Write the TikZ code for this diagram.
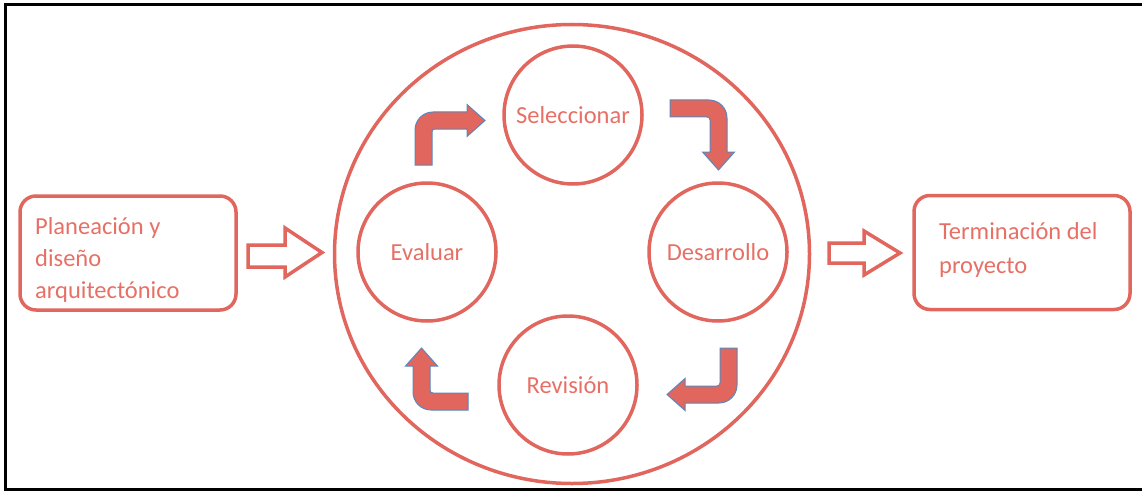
\documentclass[tikz,border=0pt]{standalone}
\usepackage{fontspec}
\setmainfont{Carlito}
\usetikzlibrary{shapes.geometric}
\definecolor{accred}{RGB}{224,102,94}
\definecolor{txtred}{RGB}{230,112,102}
\definecolor{edgeblue}{RGB}{90,135,190}
\newcommand\bentarrow[2]{%
  \path[bent] (0,#1) -- (0,18) .. controls (0,8) and (8,0) .. (18,0) -- ({#2-18},0) -- ({#2-18},-7.5) -- (#2,8.5) -- ({#2-18},24.5) -- ({#2-18},17) -- (20,17) .. controls (18,17) and (17,18) .. (17,20) -- (17,#1) -- cycle;}
\begin{document}
\begin{tikzpicture}[x=1pt,y=-1pt,
  cyc/.style={circle, draw=accred, line width=3.5pt, minimum size=138pt, inner sep=0pt, text=txtred, font=\fontsize{24.5}{28}\selectfont},
  big/.style={ellipse, draw=accred, line width=3.5pt, minimum width=475pt, minimum height=459pt, inner sep=0pt},
  box/.style={draw=accred, line width=3.5pt, rounded corners=16pt, minimum width=216pt, minimum height=114pt, inner sep=0pt},
  boxtext/.style={anchor=west, align=left, text=txtred, inner sep=0pt},
  hollow/.style={draw=accred, line width=3.5pt, fill=white, line join=miter},
  bent/.style={fill=accred, draw=edgeblue, line width=1pt},
  frame/.style={draw=black, line width=3.5pt}
]
\useasboundingbox (0,0) rectangle (1142,492);
\draw[frame] (5.5,491) -- (5.5,4.5) -- (1142,4.5);
\draw[frame] (4,489.5) -- (1142,489.5);

\node[big] (outer) at (572,254) {};
\node[cyc] (sel) at (573,115) {Seleccionar};
\node[cyc] (eva) at (427,252) {Evaluar};
\node[cyc] (des) at (718,252) {Desarrollo};
\node[cyc] (rev) at (568,385) {Revisión};

\node[box] (plan) at (128,253) {};
\node[boxtext, font=\fontsize{24.5}{32}\selectfont] (plantext) at (35,260) {Planeación y\\diseño\\arquitectónico};
\node[box] (term) at (1022,252.5) {};
\node[boxtext, font=\fontsize{24.5}{34}\selectfont] (termtext) at (939,250) {Terminación del\\proyecto};

\draw[hollow] (248,245) -- (285,245) -- (285,228) -- (322,252.5) -- (285,277) -- (285,267) -- (248,267) -- cycle;
\draw[hollow] (829,243) -- (864,243) -- (864,231) -- (900,253) -- (864,275) -- (864,263) -- (829,263) -- cycle;

\begin{scope}[shift={(415,112)}] \bentarrow{53}{70} \end{scope}
\begin{scope}[shift={(727,100)}, rotate=-90] \bentarrow{57}{70} \end{scope}
\begin{scope}[shift={(737,403)}, rotate=180] \bentarrow{55}{70} \end{scope}
\begin{scope}[shift={(413,410)}, rotate=90] \bentarrow{55}{62} \end{scope}
\end{tikzpicture}
\end{document}
